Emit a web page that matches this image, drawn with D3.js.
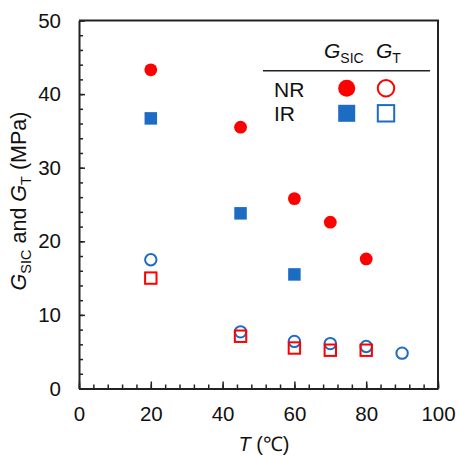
<!DOCTYPE html>
<html>
<head>
<meta charset="utf-8">
<script src="https://cdn.jsdelivr.net/npm/d3@7"></script>
<style>
  html, body { margin: 0; padding: 0; background: #fff; }
  svg text { font-family: "Liberation Sans", Arial, sans-serif; fill: #111; }
</style>
</head>
<body>
<svg id="chart" width="459" height="456"></svg>
<script>
// ---- data ----
const nrSicT = [20, 45, 60, 70, 80];
const nrSicG = [43.3, 35.5, 25.8, 22.6, 17.6];
const irSicT = [20, 45, 60];
const irSicG = [36.7, 23.8, 15.5];
const gtCircleT = [20, 45, 60, 70, 80, 90];
const gtCircleG = [17.5, 7.7, 6.4, 6.1, 5.7, 4.8];
const gtSquareT = [20, 45, 60, 70, 80];
const gtSquareG = [15.0, 7.1, 5.5, 5.2, 5.2];
const xTicks = [0, 20, 40, 60, 80, 100];
const yTicks = [0, 10, 20, 30, 40, 50];

const RED = "#ff0000", BLUE = "#1c6cc4", AX = "#222";
const svg = d3.select("#chart");
const x = d3.scaleLinear().domain([0, 100]).range([79, 438]);
const y = d3.scaleLinear().domain([0, 50]).range([388.5, 20.5]);
const FS = "20.5px";

// minor ticks
svg.append("g").attr("transform", `translate(0,${y(0)})`)
  .call(d3.axisBottom(x).tickValues(d3.range(0, 101, 4)).tickSize(-4).tickFormat(""))
  .call(g => g.select(".domain").remove())
  .call(g => g.selectAll("line").attr("stroke", AX).attr("stroke-width", 1.5));
svg.append("g").attr("transform", `translate(${x(0)},0)`)
  .call(d3.axisLeft(y).tickValues(d3.range(0, 51, 2)).tickSize(-4).tickFormat(""))
  .call(g => g.select(".domain").remove())
  .call(g => g.selectAll("line").attr("stroke", AX).attr("stroke-width", 1.5));

// major axes
const xa = svg.append("g").attr("transform", `translate(0,${y(0)})`)
  .call(d3.axisBottom(x).tickValues(xTicks).tickSize(-7).tickPadding(18).tickSizeOuter(0).tickFormat(d3.format("d")));
const ya = svg.append("g").attr("transform", `translate(${x(0)},0)`)
  .call(d3.axisLeft(y).tickValues(yTicks).tickSize(-6).tickPadding(18).tickSizeOuter(0).tickFormat(d3.format("d")));
[xa, ya].forEach(a => {
  a.select(".domain").attr("stroke", AX).attr("stroke-width", 2);
  a.selectAll("line").attr("stroke", AX).attr("stroke-width", 1.5);
  a.selectAll("text").style("font-size", FS).style("font-family", "Liberation Sans, Arial, sans-serif").attr("fill", "#111");
});
// frame top/right
svg.append("path")
  .attr("d", `M${x(0)},${y(50)}H${x(100)}V${y(0)}`)
  .attr("fill", "none").attr("stroke", AX).attr("stroke-width", 2);

// data marks
const S = 12.5;
svg.append("g").selectAll("circle").data(gtCircleT).join("circle")
  .attr("cx", d => x(d)).attr("cy", (d, i) => y(gtCircleG[i])).attr("r", 5.7)
  .attr("fill", "none").attr("stroke", BLUE).attr("stroke-width", 2);
svg.append("g").selectAll("rect").data(gtSquareT).join("rect")
  .attr("x", d => x(d) - 5.7).attr("y", (d, i) => y(gtSquareG[i]) - 5.7)
  .attr("width", 11.4).attr("height", 11.4)
  .attr("fill", "none").attr("stroke", RED).attr("stroke-width", 2);
svg.append("g").selectAll("rect").data(irSicT).join("rect")
  .attr("x", d => x(d) - S / 2).attr("y", (d, i) => y(irSicG[i]) - S / 2)
  .attr("width", S).attr("height", S).attr("fill", BLUE);
svg.append("g").selectAll("circle").data(nrSicT).join("circle")
  .attr("cx", d => x(d)).attr("cy", (d, i) => y(nrSicG[i])).attr("r", 6.4)
  .attr("fill", RED);

// axis titles
const xt = svg.append("text").attr("x", 264).attr("y", 451).attr("text-anchor", "middle").style("font-size", "20px");
xt.append("tspan").style("font-style", "italic").text("T");
xt.append("tspan").text(" (\u2103)");

const yt = svg.append("text").attr("transform", "translate(26,201) rotate(-90)")
  .attr("text-anchor", "middle").style("font-size", "21.5px");
yt.append("tspan").style("font-style", "italic").text("G");
yt.append("tspan").attr("dy", 5).style("font-size", "14.5px").text("SIC");
yt.append("tspan").attr("dy", -5).text(" and ");
yt.append("tspan").style("font-style", "italic").text("G");
yt.append("tspan").attr("dy", 5).style("font-size", "14.5px").text("T");
yt.append("tspan").attr("dy", -5).text(" (MPa)");

// legend
const lg = svg.append("g");
const h1 = lg.append("text").attr("x", 324).attr("y", 58).style("font-size", "21px");
h1.append("tspan").style("font-style", "italic").text("G");
h1.append("tspan").attr("dy", 5).style("font-size", "14px").text("SIC");
const h2 = lg.append("text").attr("x", 376).attr("y", 58).style("font-size", "21px");
h2.append("tspan").style("font-style", "italic").text("G");
h2.append("tspan").attr("dy", 5).style("font-size", "14px").text("T");
lg.append("line").attr("x1", 263).attr("x2", 430).attr("y1", 70.7).attr("y2", 70.7)
  .attr("stroke", AX).attr("stroke-width", 1.5);
lg.append("text").attr("x", 274).attr("y", 96.5).style("font-size", "21px").text("NR");
lg.append("text").attr("x", 274).attr("y", 120.5).style("font-size", "21px").text("IR");
const LS = 17, LR = 8.5;
lg.append("circle").attr("cx", 346.7).attr("cy", 88.3).attr("r", LR).attr("fill", RED);
lg.append("circle").attr("cx", 386).attr("cy", 88.3).attr("r", 8.2).attr("fill", "none").attr("stroke", RED).attr("stroke-width", 2);
lg.append("rect").attr("x", 346.7 - LS / 2).attr("y", 113.3 - LS / 2).attr("width", LS).attr("height", LS).attr("fill", BLUE);
lg.append("rect").attr("x", 386 - 8.2).attr("y", 113.3 - 8.2).attr("width", 16.4).attr("height", 16.4).attr("fill", "none").attr("stroke", BLUE).attr("stroke-width", 2);
</script>
</body>
</html>
